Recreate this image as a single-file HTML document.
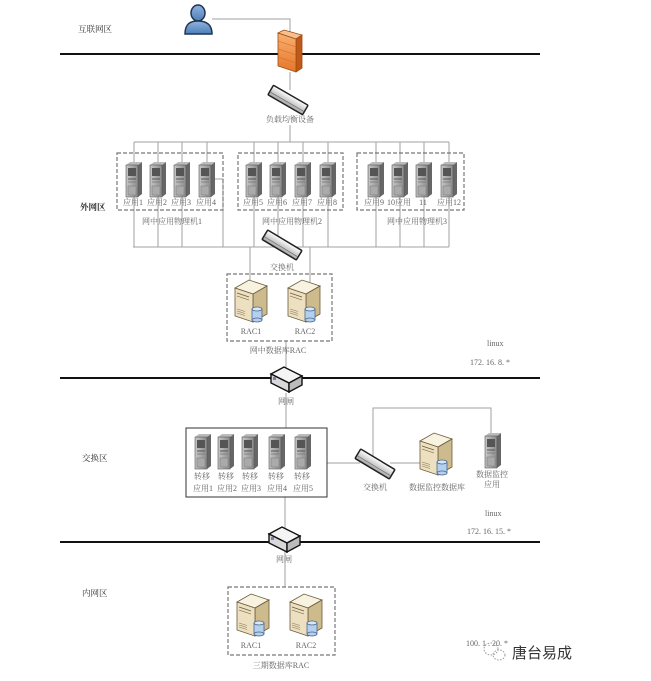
<!DOCTYPE html>
<html><head><meta charset="utf-8"><style>
html,body{margin:0;padding:0;background:#fff;}
svg{display:block;}
text{font-family:"Liberation Serif","Noto Serif CJK SC",serif;font-size:8px;fill:#666;}
.z{fill:#333;font-size:8.5px;}
</style></head><body>
<svg width="651" height="681" viewBox="0 0 651 681" xmlns="http://www.w3.org/2000/svg">
<defs>
<linearGradient id="tg" x1="0" y1="0" x2="1" y2="0"><stop offset="0" stop-color="#c8c8c8"/><stop offset="1" stop-color="#8a8a8a"/></linearGradient>
<linearGradient id="fg" x1="0" y1="0" x2="0" y2="1"><stop offset="0" stop-color="#f9b070"/><stop offset="1" stop-color="#e5762a"/></linearGradient>
<linearGradient id="ug" x1="0" y1="0" x2="0" y2="1"><stop offset="0" stop-color="#8fb3de"/><stop offset="1" stop-color="#4f7fb8"/></linearGradient>
<linearGradient id="sg" x1="0" y1="0" x2="0" y2="1"><stop offset="0" stop-color="#ffffff"/><stop offset="1" stop-color="#a5a5a5"/></linearGradient>
<g id="tower">
<polygon points="12,3 16,0 16,32 12,35" fill="#666"/>
<polygon points="0,3 4,0 16,0 12,3" fill="#bbb"/>
<rect x="0" y="3" width="12" height="32" fill="url(#tg)" stroke="#555" stroke-width="0.6"/>
<rect x="2" y="6" width="8" height="8" fill="#555"/>
<line x1="2" y1="17" x2="10" y2="17" stroke="#555" stroke-width="1"/>
<line x1="2" y1="20" x2="10" y2="20" stroke="#777" stroke-width="0.8"/>
<rect x="2" y="24" width="8" height="9" fill="#aaa" stroke="#777" stroke-width="0.5"/>
</g>
<g id="db">
<polygon points="0,8 14,0 32,6 18,14" fill="#f8f2e0" stroke="#6b5a3a" stroke-width="0.8"/>
<polygon points="18,14 32,6 32,34 18,42" fill="#cdbb8e" stroke="#6b5a3a" stroke-width="0.8"/>
<polygon points="0,8 18,14 18,42 0,36" fill="#ece0c0" stroke="#6b5a3a" stroke-width="0.8"/>
<line x1="2" y1="13" x2="14" y2="17" stroke="#6b5a3a" stroke-width="0.8"/>
<line x1="2" y1="16" x2="14" y2="20" stroke="#6b5a3a" stroke-width="0.6"/>
<line x1="2" y1="29" x2="10" y2="31.5" stroke="#8a7a5a" stroke-width="0.6"/>
<line x1="2" y1="31" x2="10" y2="33.5" stroke="#8a7a5a" stroke-width="0.6"/>
<line x1="2" y1="33" x2="10" y2="35.5" stroke="#8a7a5a" stroke-width="0.6"/>
<rect x="17" y="29" width="10" height="11" fill="#b4d0ee" stroke="#4a6a90" stroke-width="0.8"/>
<ellipse cx="22" cy="40" rx="5" ry="2" fill="#b4d0ee" stroke="#4a6a90" stroke-width="0.8"/>
<ellipse cx="22" cy="29" rx="5" ry="2" fill="#d8e8f8" stroke="#4a6a90" stroke-width="0.8"/>
</g>
<g id="sw">
<rect x="-20" y="-5.5" width="40" height="11" rx="1" fill="url(#sg)" stroke="#222" stroke-width="1.5"/>
<line x1="-19" y1="2" x2="19" y2="2" stroke="#777" stroke-width="0.8"/>
</g>
<g id="gate">
<polygon points="-15,-6 -2,-13 16,-4 3,3" fill="#f4f4f4" stroke="#111" stroke-width="1.4"/>
<polygon points="-15,-6 3,3 3,12 -15,3" fill="#d8d8d8" stroke="#111" stroke-width="1.4"/>
<polygon points="3,3 16,-4 16,5 3,12" fill="#bbb" stroke="#111" stroke-width="1.4"/>
<rect x="-13" y="-3" width="3" height="3" fill="#7080c0"/>
</g>
</defs>

<!-- zone lines -->
<line x1="60" y1="54" x2="540" y2="54" stroke="#111" stroke-width="2"/>
<line x1="60" y1="378" x2="540" y2="378" stroke="#111" stroke-width="2"/>
<line x1="60" y1="542" x2="540" y2="542" stroke="#111" stroke-width="2"/>

<!-- connectors -->
<g stroke="#a0a0a0" stroke-width="1" fill="none">
<polyline points="212,19 290,19 290,33"/>
<line x1="290" y1="72" x2="290" y2="90"/>
<line x1="290" y1="125" x2="290" y2="142"/>
<line x1="134" y1="142" x2="449" y2="142"/>
<line x1="134" y1="142" x2="134" y2="247"/>
<line x1="158" y1="142" x2="158" y2="247"/>
<line x1="182" y1="142" x2="182" y2="247"/>
<line x1="207" y1="142" x2="207" y2="165"/>
<polyline points="214,179 223,179 223,247"/>
<line x1="254" y1="142" x2="254" y2="247"/>
<line x1="278" y1="142" x2="278" y2="247"/>
<line x1="303" y1="142" x2="303" y2="247"/>
<line x1="328" y1="142" x2="328" y2="247"/>
<line x1="376" y1="142" x2="376" y2="247"/>
<line x1="400" y1="142" x2="400" y2="247"/>
<line x1="424" y1="142" x2="424" y2="247"/>
<line x1="449" y1="142" x2="449" y2="247"/>
<line x1="133" y1="247" x2="449" y2="247"/>
<line x1="250" y1="247" x2="250" y2="282"/>
<line x1="310" y1="247" x2="310" y2="282"/>
<line x1="286" y1="341" x2="286" y2="368"/>
<line x1="286" y1="393" x2="286" y2="428"/>
<line x1="327" y1="463" x2="360" y2="463"/>
<polyline points="373,456 373,408 491,408 491,433"/>
<line x1="390" y1="463" x2="420" y2="463"/>
<line x1="285" y1="497" x2="285" y2="587"/>
</g>

<!-- user -->
<ellipse cx="198" cy="13" rx="7" ry="8" fill="url(#ug)" stroke="#1f3550" stroke-width="1.5"/>
<path d="M185,34 C185,24 190,21 198,21 C206,21 212,24 212,34 Z" fill="url(#ug)" stroke="#1f3550" stroke-width="1.5"/>

<!-- firewall -->
<polygon points="278,33 284,30 302,35 296,39" fill="#f8c090" stroke="#a04a10" stroke-width="0.8"/>
<polygon points="296,39 302,35 302,68 296,72" fill="#c0581a" stroke="#a04a10" stroke-width="0.8"/>
<polygon points="278,33 296,39 296,72 278,66" fill="url(#fg)" stroke="#a04a10" stroke-width="0.8"/>
<g stroke="#d06a2a" stroke-width="0.6">
<line x1="278" y1="41" x2="296" y2="47"/><line x1="278" y1="49" x2="296" y2="55"/><line x1="278" y1="57" x2="296" y2="63"/>
</g>

<!-- LB -->
<use href="#sw" transform="translate(288,100) rotate(30)"/>
<text x="290" y="122" text-anchor="middle">负载均衡设备</text>

<!-- boxes -->
<g fill="none" stroke="#777" stroke-width="1.2" stroke-dasharray="4,2">
<rect x="117" y="153" width="106" height="57"/>
<rect x="238" y="153" width="105" height="57"/>
<rect x="357" y="153" width="107" height="57"/>
<rect x="227" y="274" width="105" height="67"/>
<rect x="228" y="587" width="107" height="68"/>
</g>

<!-- app servers -->
<use href="#tower" x="126" y="162"/><use href="#tower" x="150" y="162"/><use href="#tower" x="174" y="162"/><use href="#tower" x="199" y="162"/>
<use href="#tower" x="246" y="162"/><use href="#tower" x="270" y="162"/><use href="#tower" x="295" y="162"/><use href="#tower" x="320" y="162"/>
<use href="#tower" x="368" y="162"/><use href="#tower" x="392" y="162"/><use href="#tower" x="416" y="162"/><use href="#tower" x="441" y="162"/>
<g text-anchor="middle">
<text x="133" y="205">应用1</text><text x="157" y="205">应用2</text><text x="181" y="205">应用3</text><text x="206" y="205">应用4</text>
<text x="253" y="205">应用5</text><text x="277" y="205">应用6</text><text x="302" y="205">应用7</text><text x="327" y="205">应用8</text>
<text x="374" y="205">应用9</text><text x="399" y="205">10应用</text><text x="423" y="205">11</text><text x="449" y="205">应用12</text>
<text x="172" y="224">网中应用物理机1</text>
<text x="292" y="224">网中应用物理机2</text>
<text x="417" y="224">网中应用物理机3</text>
</g>
<text x="80" y="210" class="z" style="font-weight:bold">外网区</text>
<text x="78" y="32" class="z">互联网区</text>

<!-- switch upper -->
<use href="#sw" transform="translate(282,245) rotate(31)"/>
<text x="282" y="270" text-anchor="middle">交换机</text>

<!-- RAC -->
<use href="#db" x="235" y="280"/><use href="#db" x="288" y="280"/>
<text x="251" y="334" text-anchor="middle">RAC1</text><text x="305" y="334" text-anchor="middle">RAC2</text>
<text x="278" y="353" text-anchor="middle">网中数据库RAC</text>
<text x="487" y="346">linux</text>
<text x="470" y="365">172. 16. 8. *</text>

<!-- gate 1 -->
<use href="#gate" transform="translate(286,380)"/>
<text x="286" y="404" text-anchor="middle">网闸</text>

<!-- exchange -->
<rect x="186" y="428" width="141" height="69" fill="none" stroke="#333" stroke-width="1"/>
<use href="#tower" x="195" y="434"/><use href="#tower" x="218" y="434"/><use href="#tower" x="242" y="434"/><use href="#tower" x="269" y="434"/><use href="#tower" x="295" y="434"/>
<g text-anchor="middle">
<text x="202" y="479">转移</text><text x="226" y="479">转移</text><text x="250" y="479">转移</text><text x="276" y="479">转移</text><text x="302" y="479">转移</text>
<text x="203" y="491">应用1</text><text x="227" y="491">应用2</text><text x="251" y="491">应用3</text><text x="277" y="491">应用4</text><text x="303" y="491">应用5</text>
</g>
<text x="82" y="461" class="z">交换区</text>
<use href="#sw" transform="translate(375,464) rotate(31)"/>
<text x="375" y="490" text-anchor="middle">交换机</text>
<use href="#db" x="420" y="433"/>
<text x="437" y="490" text-anchor="middle">数据监控数据库</text>
<use href="#tower" x="485" y="433"/>
<text x="492" y="477" text-anchor="middle">数据监控</text>
<text x="492" y="487" text-anchor="middle">应用</text>
<text x="485" y="516">linux</text>
<text x="467" y="534">172. 16. 15. *</text>

<!-- gate 2 -->
<use href="#gate" transform="translate(284,540)"/>
<text x="284" y="562" text-anchor="middle">网闸</text>

<!-- inner -->
<text x="82" y="596" class="z">内网区</text>
<use href="#db" x="237" y="594"/><use href="#db" x="290" y="594"/>
<text x="251" y="648" text-anchor="middle">RAC1</text><text x="306" y="648" text-anchor="middle">RAC2</text>
<text x="281" y="668" text-anchor="middle">三期数据库RAC</text>
<text x="466" y="646">100. 1 . 20. *</text>

<!-- watermark -->
<g fill="none" stroke="#999" stroke-width="1" stroke-dasharray="1.5,1.5">
<ellipse cx="491" cy="649" rx="7" ry="6"/>
<ellipse cx="499" cy="655" rx="6" ry="5"/>
</g>
<text x="512" y="658" style="font-family:'Liberation Sans','Noto Sans CJK SC',sans-serif;font-size:15px;fill:#333">唐台易成</text>
</svg>
</body></html>
